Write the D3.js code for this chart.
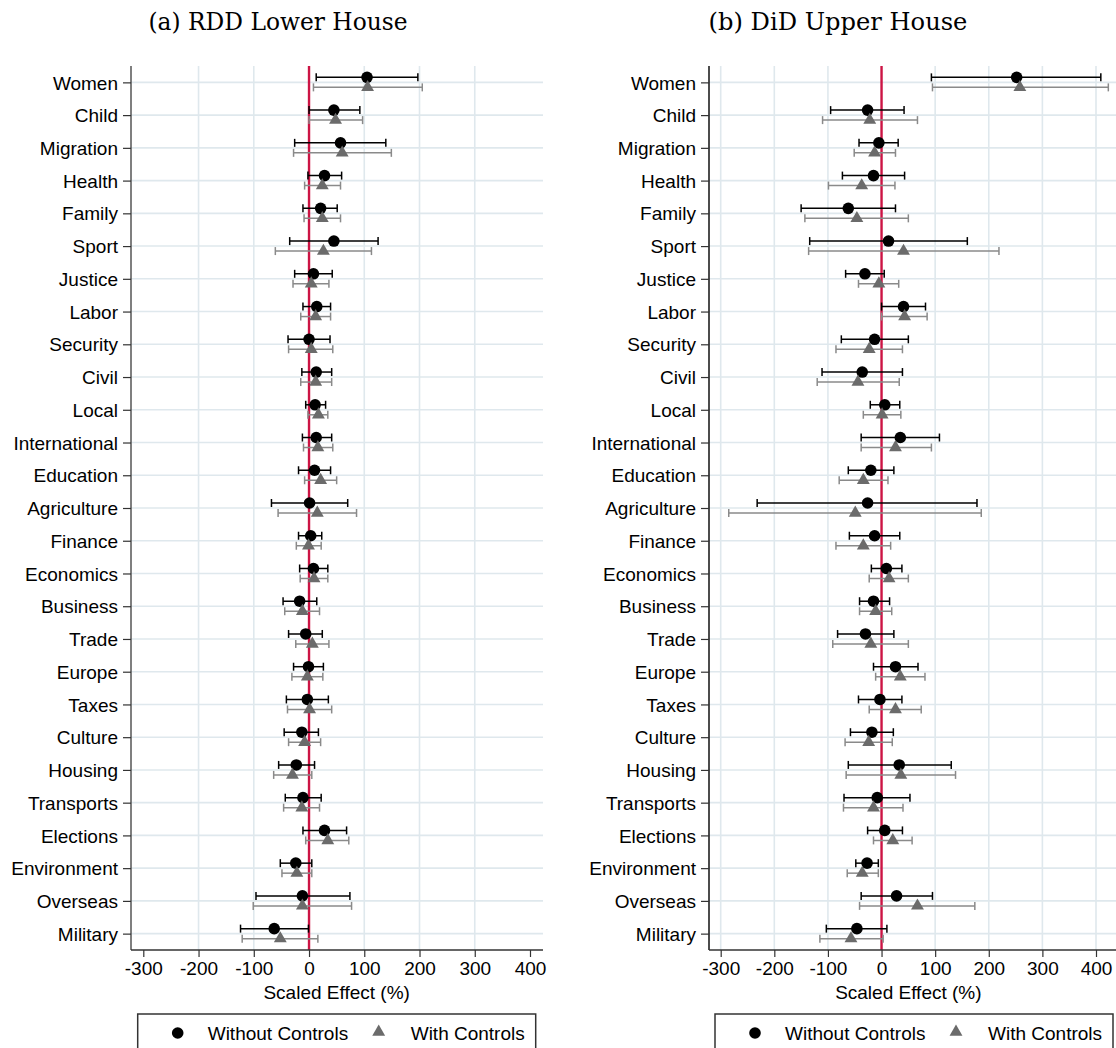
<!DOCTYPE html>
<html>
<head>
<meta charset="utf-8">
<script src="https://cdn.jsdelivr.net/npm/d3@7"></script>
<style>
  html, body { margin: 0; padding: 0; background: #fff; }
  svg { display: block; }
</style>
</head>
<body>
<svg id="chart" width="1116" height="1048"></svg>
<script>
// ---------------- DATA ----------------
const categories = ["Women","Child","Migration","Health","Family","Sport","Justice","Labor","Security","Civil","Local","International","Education","Agriculture","Finance","Economics","Business","Trade","Europe","Taxes","Culture","Housing","Transports","Elections","Environment","Overseas","Military"];

// (a) RDD Lower House
const rddWithoutEst = [105, 45, 57, 28, 21, 45, 8, 14, 0, 13, 11, 13, 10, 1, 3, 8, -17, -6, -1, -3, -13, -23, -11, 28, -24, -12, -63];
const rddWithoutLo  = [13, 0, -26, -2, -11, -35, -26, -11, -38, -13, -6, -12, -19, -68, -19, -17, -47, -37, -28, -41, -45, -55, -43, -11, -52, -96, -124];
const rddWithoutHi  = [197, 92, 139, 59, 51, 125, 42, 39, 38, 41, 30, 41, 39, 70, 23, 34, 14, 24, 26, 35, 17, 10, 22, 68, 5, 74, -1];
const rddWithEst    = [106, 48, 60, 24, 24, 26, 4, 12, 4, 12, 17, 16, 21, 15, -1, 9, -12, 6, -3, 1, -8, -30, -13, 34, -22, -12, -52];
const rddWithLo     = [8, 0, -28, -8, -9, -61, -29, -15, -37, -15, -2, -10, -8, -56, -23, -16, -44, -24, -31, -39, -37, -64, -46, -6, -49, -101, -121];
const rddWithHi     = [205, 97, 149, 57, 57, 113, 36, 39, 43, 41, 34, 43, 50, 86, 22, 34, 19, 36, 25, 41, 21, 5, 19, 72, 5, 77, 16];

// (b) DiD Upper House
const didWithoutEst = [252, -26, -5, -15, -62, 13, -31, 41, -13, -36, 6, 35, -20, -26, -13, 9, -15, -30, 26, -3, -18, 33, -8, 6, -27, 28, -46];
const didWithoutLo  = [93, -95, -42, -73, -150, -134, -67, 0, -75, -111, -21, -38, -62, -232, -60, -19, -41, -82, -15, -43, -58, -62, -70, -26, -48, -38, -103];
const didWithoutHi  = [409, 42, 31, 43, 26, 160, 5, 82, 50, 39, 34, 108, 23, 178, 34, 38, 15, 23, 68, 38, 22, 130, 53, 39, -6, 95, 10];
const didWithEst    = [258, -22, -13, -37, -46, 41, -5, 43, -23, -44, 1, 26, -34, -49, -34, 14, -11, -20, 35, 26, -24, 36, -15, 21, -36, 67, -57];
const didWithLo     = [95, -110, -51, -99, -143, -136, -43, 0, -85, -120, -34, -38, -79, -285, -85, -23, -41, -91, -11, -23, -68, -66, -71, -15, -64, -41, -115];
const didWithHi     = [423, 67, 26, 25, 50, 219, 32, 85, 39, 33, 36, 93, 12, 186, 17, 50, 19, 50, 81, 74, 20, 138, 40, 57, -6, 174, 3];

const xTicks = [-300, -200, -100, 0, 100, 200, 300, 400];
const xDomain = [-300, 400];
const panelTitles = ["(a) RDD Lower House", "(b) DiD Upper House"];
const axisTitle = "Scaled Effect (%)";
const legendLabels = ["Without Controls", "With Controls"];

// ---------------- LAYOUT ----------------
const svg = d3.select("#chart");
const SANS = "'Liberation Sans', Arial, Helvetica, sans-serif";
const SERIF = "'DejaVu Serif', 'Liberation Serif', serif";
const plotTop = 66, plotBottom = 950;
const blackCol = "#000000", grayBar = "#8a8a8a", grayMarker = "#6b6b6b";
const gridCol = "#dfe8ed", zeroCol = "#cc1444";

const panels = [
  { title: panelTitles[0], titleX: 278, axisX: 131, rightX: 543, range: [143.3, 530], gridTicks: [-200, -100, 100, 200, 300], yAxisCol: "#555",
    legendX: 137.7, legendW: 398,
    without: { est: rddWithoutEst, lo: rddWithoutLo, hi: rddWithoutHi },
    with: { est: rddWithEst, lo: rddWithLo, hi: rddWithHi } },
  { title: panelTitles[1], titleX: 838, axisX: 709, rightX: 1118, range: [720.7, 1096], gridTicks: [-300, -200, -100, 100, 200, 300, 400], yAxisCol: "#111",
    legendX: 715, legendW: 398,
    without: { est: didWithoutEst, lo: didWithoutLo, hi: didWithoutHi },
    with: { est: didWithEst, lo: didWithLo, hi: didWithHi } }
];

const y = d3.scalePoint().domain(categories).range([plotTop, plotBottom]).padding(0.5);
const off = 5, capH = 8;

panels.forEach(p => {
  const g = svg.append("g");
  const x = d3.scaleLinear().domain(xDomain).range(p.range);

  // title
  const t = g.append("text")
    .attr("x", p.titleX).attr("y", 30)
    .attr("text-anchor", "middle")
    .attr("font-family", SERIF).attr("font-size", 20)
    .attr("fill", "#000").text(p.title);
  const w = t.node().getComputedTextLength();
  t.attr("font-size", 20 * 259 / w);

  // gridlines
  g.append("g").selectAll("line.hg").data(categories).join("line")
    .attr("x1", p.axisX).attr("x2", p.rightX)
    .attr("y1", d => y(d)).attr("y2", d => y(d))
    .attr("stroke", gridCol).attr("stroke-width", 1.6);
  g.append("g").selectAll("line.vg").data(p.gridTicks).join("line")
    .attr("x1", d => x(d)).attr("x2", d => x(d))
    .attr("y1", plotTop).attr("y2", plotBottom)
    .attr("stroke", gridCol).attr("stroke-width", 1.6);

  // zero line
  g.append("line")
    .attr("x1", x(0)).attr("x2", x(0)).attr("y1", plotTop).attr("y2", plotBottom)
    .attr("stroke", zeroCol).attr("stroke-width", 2.4);

  // y axis (category)
  const yAxis = d3.axisLeft(y).tickSize(8).tickPadding(5);
  const ya = g.append("g").attr("transform", `translate(${p.axisX},0)`).call(yAxis);
  ya.select(".domain").attr("d", `M0,${plotTop}V${plotBottom}`).attr("stroke", p.yAxisCol).attr("stroke-width", 1.5);
  ya.selectAll(".tick line").attr("stroke", "#333").attr("stroke-width", 1.2);
  ya.selectAll(".tick text").attr("font-family", SANS).attr("font-size", 19).attr("fill", "#000").attr("dy", "0.35em");

  // x axis
  const xAxis = d3.axisBottom(x).tickValues(xTicks).tickSize(7).tickPadding(5).tickFormat(d3.format("d"));
  const xa = g.append("g").attr("transform", `translate(0,${plotBottom})`).call(xAxis);
  xa.select(".domain").attr("d", `M${p.axisX},0H${p.rightX}`).attr("stroke", "#333").attr("stroke-width", 1.5);
  xa.selectAll(".tick line").attr("stroke", "#333").attr("stroke-width", 1.2);
  xa.selectAll(".tick text").attr("font-family", SANS).attr("font-size", 19).attr("fill", "#000")
    .text(d => d < 0 ? "-" + Math.abs(d) : String(d));

  g.append("text")
    .attr("x", (p.range[0] + p.range[1]) / 2).attr("y", 999)
    .attr("text-anchor", "middle").attr("font-family", SANS).attr("font-size", 19)
    .attr("fill", "#000").text(axisTitle);

  // error bars
  const drawBars = (s, dy, col) => {
    const bg = g.append("g").attr("stroke", col).attr("stroke-width", 1.5).attr("fill", "none");
    categories.forEach((c, i) => {
      const yy = y(c) + dy;
      bg.append("line").attr("x1", x(s.lo[i])).attr("x2", x(s.hi[i])).attr("y1", yy).attr("y2", yy);
      bg.append("line").attr("x1", x(s.lo[i])).attr("x2", x(s.lo[i])).attr("y1", yy - capH / 2).attr("y2", yy + capH / 2);
      bg.append("line").attr("x1", x(s.hi[i])).attr("x2", x(s.hi[i])).attr("y1", yy - capH / 2).attr("y2", yy + capH / 2);
    });
  };
  drawBars(p.without, -off, blackCol);
  drawBars(p.with, off, grayBar);

  // markers
  g.append("g").selectAll("circle").data(categories).join("circle")
    .attr("cx", (d, i) => x(p.without.est[i])).attr("cy", d => y(d) - off)
    .attr("r", 5.8).attr("fill", blackCol);
  const tri = d3.symbol().type(d3.symbolTriangle).size(72);
  g.append("g").selectAll("path").data(categories).join("path")
    .attr("d", tri)
    .attr("transform", (d, i) => `translate(${x(p.with.est[i])},${y(d) + off})`)
    .attr("fill", grayMarker);

  // legend
  const lg = g.append("g").attr("transform", `translate(${p.legendX},1014)`);
  lg.append("rect").attr("x", 0).attr("y", 0).attr("width", p.legendW).attr("height", 60)
    .attr("fill", "#fff").attr("stroke", "#333").attr("stroke-width", 1.5);
  lg.append("circle").attr("cx", 40).attr("cy", 19).attr("r", 5.8).attr("fill", blackCol);
  lg.append("text").attr("x", 70).attr("y", 26).attr("font-family", SANS).attr("font-size", 19).attr("fill", "#000").text(legendLabels[0]);
  lg.append("path").attr("d", tri).attr("transform", "translate(241,18)").attr("fill", grayMarker);
  lg.append("text").attr("x", 273).attr("y", 26).attr("font-family", SANS).attr("font-size", 19).attr("fill", "#000").text(legendLabels[1]);
});
</script>
</body>
</html>
